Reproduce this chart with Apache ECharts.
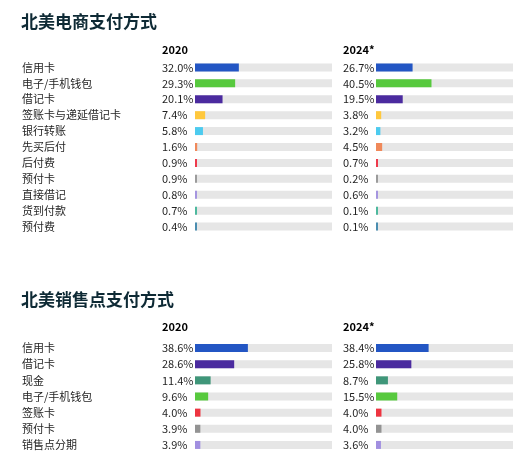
<!DOCTYPE html>
<html>
<head>
<meta charset="utf-8">
<script src="https://cdn.jsdelivr.net/npm/echarts@6/dist/echarts.min.js"></script>
<style>
  html, body { margin: 0; padding: 0; background: #fff; }
  #chart { width: 528px; height: 472px; }
</style>
</head>
<body>
<div id="chart"></div>
<script>
// 北美电商支付方式
const ecCategories = ["信用卡", "电子/手机钱包", "借记卡", "签账卡与递延借记卡", "银行转账", "先买后付", "后付费", "预付卡", "直接借记", "货到付款", "预付费"];
const ecColors = ["#2356c4", "#57c93e", "#4b2b9f", "#ffc83d", "#4ccbef", "#f0895a", "#ee3a4c", "#9b9b9b", "#a595e0", "#4db99e", "#4a8db0"];
const ec2020 = [32.0, 29.3, 20.1, 7.4, 5.8, 1.6, 0.9, 0.9, 0.8, 0.7, 0.4];
const ec2024 = [26.7, 40.5, 19.5, 3.8, 3.2, 4.5, 0.7, 0.2, 0.6, 0.1, 0.1];

// 北美销售点支付方式
const posCategories = ["信用卡", "借记卡", "现金", "电子/手机钱包", "签账卡", "预付卡", "销售点分期"];
const posColors = ["#2356c4", "#4b2b9f", "#3f9679", "#57c93e", "#ee3440", "#939393", "#a18fe0"];
const pos2020 = [38.6, 28.6, 11.4, 9.6, 4.0, 3.9, 3.9];
const pos2024 = [38.4, 25.8, 8.7, 15.5, 4.0, 4.0, 3.6];

const yearLabels = ["2020", "2024*"];

const FONT = "'Noto Sans CJK SC', 'Noto Sans', sans-serif";
const TEXT = "#1f1f1f";

const chart = echarts.init(document.getElementById("chart"));

// 每个面板: 网格位置 + 数据
const panels = [
    { left: 195, top: 59.5, height: 175, cats: ecCategories, colors: ecColors, values: ec2020, showCats: true },
    { left: 376, top: 59.5, height: 175, cats: ecCategories, colors: ecColors, values: ec2024, showCats: false },
    { left: 195, top: 340, height: 113, cats: posCategories, colors: posColors, values: pos2020, showCats: true },
    { left: 376, top: 340, height: 113, cats: posCategories, colors: posColors, values: pos2024, showCats: false }
];

const titleStyle = { fontFamily: FONT, fontSize: 17, fontWeight: "bold", color: "#0e2a35" };
const headStyle = { fontFamily: FONT, fontSize: 11, fontWeight: "bold", color: "#000" };

const option = {
    backgroundColor: "#fff",
    animation: false,
    title: [
        { text: "北美电商支付方式", left: 21, top: 13, padding: 0, textStyle: titleStyle },
        { text: yearLabels[0], left: 162, top: 44, padding: 0, textStyle: headStyle },
        { text: yearLabels[1], left: 343, top: 44, padding: 0, textStyle: headStyle },
        { text: "北美销售点支付方式", left: 21, top: 291, padding: 0, textStyle: titleStyle },
        { text: yearLabels[0], left: 162, top: 321, padding: 0, textStyle: headStyle },
        { text: yearLabels[1], left: 343, top: 321, padding: 0, textStyle: headStyle }
    ],
    grid: panels.map(p => ({ left: p.left, top: p.top, width: 137, height: p.height, containLabel: false })),
    xAxis: panels.map((p, i) => ({
        type: "value",
        gridIndex: i,
        min: 0,
        max: 100,
        show: false
    })),
    yAxis: panels.map((p, i) => ({
        type: "category",
        gridIndex: i,
        inverse: true,
        data: p.cats,
        axisLine: { show: false },
        axisTick: { show: false },
        splitLine: { show: false },
        axisLabel: {
            show: p.showCats,
            align: "left",
            margin: 173,
            fontFamily: FONT,
            fontSize: 11,
            color: TEXT
        }
    })),
    series: panels.map((p, i) => ({
        type: "bar",
        xAxisIndex: i,
        yAxisIndex: i,
        barWidth: 8,
        barMinHeight: 2,
        showBackground: true,
        backgroundStyle: { color: "#e6e6e6" },
        data: p.values.map((v, k) => ({ value: v, itemStyle: { color: p.colors[k] } })),
        label: {
            show: true,
            position: "left",
            distance: 33,
            align: "left",
            fontFamily: FONT,
            fontSize: 11,
            color: TEXT,
            formatter: (d) => d.value.toFixed(1) + "%"
        }
    }))
};

chart.setOption(option);
</script>
</body>
</html>
